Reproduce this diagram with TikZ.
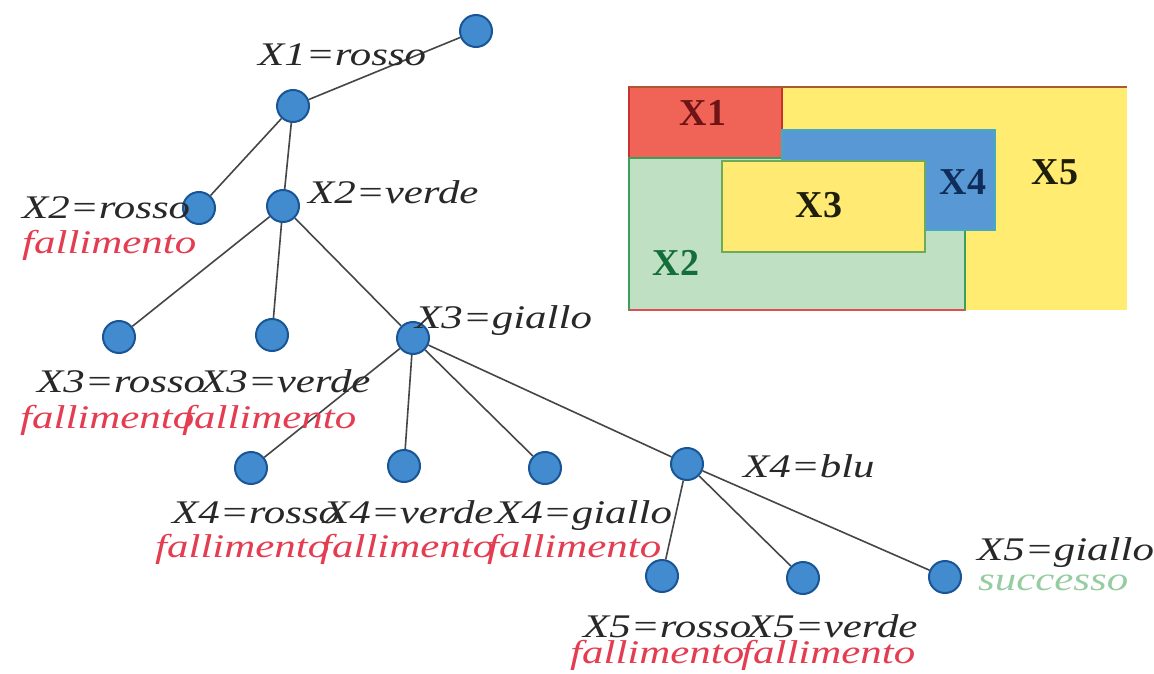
\documentclass[tikz,border=0pt]{standalone}
\usepackage{fontspec}
\newfontfamily\labfont{Liberation Serif}[FakeStretch=1.3]
\newfontfamily\mapfont{Liberation Serif}
\definecolor{nodeblue}{RGB}{66,139,207}
\definecolor{nodeedge}{RGB}{25,85,150}
\definecolor{labgray}{RGB}{40,40,40}
\definecolor{failred}{RGB}{228,60,80}
\definecolor{succgreen}{RGB}{150,205,160}
\definecolor{edgegray}{RGB}{70,70,70}
\definecolor{xonered}{RGB}{240,100,88}
\definecolor{xoneborder}{RGB}{200,50,50}
\definecolor{xtwogreen}{RGB}{192,224,196}
\definecolor{xtwoborder}{RGB}{60,160,90}
\definecolor{xthreeyellow}{RGB}{255,235,115}
\definecolor{xthreeborder}{RGB}{110,170,90}
\definecolor{xfourblue}{RGB}{88,152,212}
\definecolor{xfourborder}{RGB}{70,170,190}
\definecolor{xfiveyellow}{RGB}{255,236,112}
\definecolor{toplinecol}{RGB}{170,90,50}
\definecolor{botlinecol}{RGB}{220,80,80}
\definecolor{txone}{RGB}{110,20,20}
\definecolor{txtwo}{RGB}{20,110,60}
\definecolor{txfour}{RGB}{15,45,90}
\definecolor{txdark}{RGB}{30,30,10}
\begin{document}
\begin{tikzpicture}[x=1pt,y=-1pt,
  vtx/.style={circle,minimum size=32pt,inner sep=0pt,fill=nodeblue,draw=nodeedge,line width=2pt},
  lab/.style={anchor=base west,inner sep=0pt,text=labgray,font=\labfont\itshape\fontsize{33}{38}\selectfont},
  fail/.style={lab,text=failred},
  succ/.style={lab,text=succgreen},
  edge/.style={draw=edgegray,line width=1.6pt},
  maplab/.style={inner sep=0pt,font=\mapfont\bfseries\fontsize{38}{40}\selectfont}]
\useasboundingbox (0,0) rectangle (1154,674);
\fill[white] (0,0) rectangle (1154,674);

% ---- map ----
\fill[xfiveyellow] (629,87) rectangle (1127,310);
\filldraw[fill=xonered,draw=xoneborder,line width=1.5pt] (629,87) rectangle (782,158);
\filldraw[fill=xtwogreen,draw=xtwoborder,line width=1.5pt] (629,158) rectangle (965,310);
\filldraw[fill=xfourblue,draw=xfourborder,line width=1.5pt] (782,130) rectangle (995,230);
\filldraw[fill=xthreeyellow,draw=xthreeborder,line width=1.5pt] (722,161) rectangle (925,252);
\draw[toplinecol,line width=2pt] (629,87) -- (1127,87);
\draw[botlinecol,line width=1.5pt] (629,310) -- (965,310);
\node[maplab,text=txone] (m1) at (703,113) {X1};
\node[maplab,text=txtwo] (m2) at (676,263) {X2};
\node[maplab,text=txdark] (m3) at (819,205) {X3};
\node[maplab,text=txfour] (m4) at (963,182) {X4};
\node[maplab,text=txdark] (m5) at (1055,172) {X5};

% ---- tree nodes ----
\node[vtx] (n0) at (476,31) {};
\node[vtx] (n1) at (293,106) {};
\node[vtx] (n2a) at (199,208) {};
\node[vtx] (n2b) at (283,206) {};
\node[vtx] (n3a) at (119,337) {};
\node[vtx] (n3b) at (272,335) {};
\node[vtx] (n3c) at (413,338) {};
\node[vtx] (n4a) at (251,468) {};
\node[vtx] (n4b) at (404,466) {};
\node[vtx] (n4c) at (545,468) {};
\node[vtx] (n4d) at (687,464) {};
\node[vtx] (n5a) at (662,576) {};
\node[vtx] (n5b) at (803,578) {};
\node[vtx] (n5c) at (945,577) {};

\draw[edge] (n0) -- (n1);
\draw[edge] (n1) -- (n2a);
\draw[edge] (n1) -- (n2b);
\draw[edge] (n2b) -- (n3a);
\draw[edge] (n2b) -- (n3b);
\draw[edge] (n2b) -- (n3c);
\draw[edge] (n3c) -- (n4a);
\draw[edge] (n3c) -- (n4b);
\draw[edge] (n3c) -- (n4c);
\draw[edge] (n3c) -- (n4d);
\draw[edge] (n4d) -- (n5a);
\draw[edge] (n4d) -- (n5b);
\draw[edge] (n4d) -- (n5c);

% ---- labels ----
\node[lab] (l1) at (258,66) {X1=rosso};
\node[lab] (l2a) at (22,218) {X2=rosso};
\node[fail] (f2a) at (22,253) {fallimento};
\node[lab] (l2b) at (308,203) {X2=verde};
\node[lab] (l3c) at (415,328) {X3=giallo};
\node[lab] (l3a) at (37,392) {X3=rosso};
\node[fail] (f3a) at (20,428) {fallimento};
\node[lab] (l3b) at (200,392) {X3=verde};
\node[fail] (f3b) at (182,428) {fallimento};
\node[lab] (l4a) at (172,523) {X4=rosso};
\node[fail] (f4a) at (155,557) {fallimento};
\node[lab] (l4b) at (323,523) {X4=verde};
\node[fail] (f4b) at (320,557) {fallimento};
\node[lab] (l4c) at (495,523) {X4=giallo};
\node[fail] (f4c) at (487,557) {fallimento};
\node[lab] (l4d) at (743,477) {X4=blu};
\node[lab] (l5a) at (583,637) {X5=rosso};
\node[fail] (f5a) at (570,663) {fallimento};
\node[lab] (l5b) at (747,637) {X5=verde};
\node[fail] (f5b) at (741,663) {fallimento};
\node[lab] (l5c) at (977,560) {X5=giallo};
\node[succ] (s5c) at (978,590) {successo};
\end{tikzpicture}
\end{document}
